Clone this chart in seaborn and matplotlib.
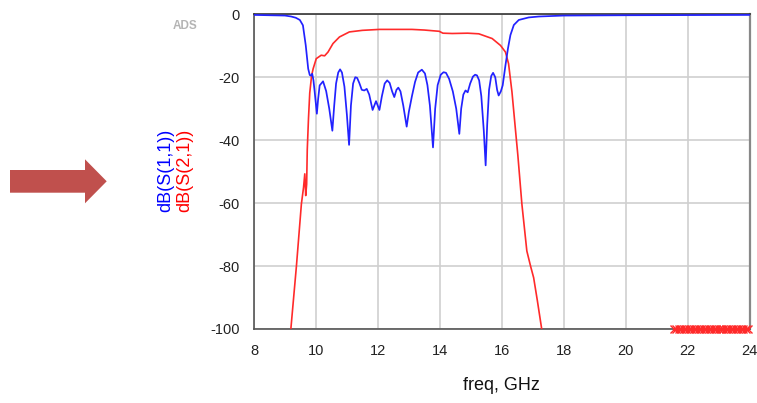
import matplotlib
matplotlib.use("Agg")
import matplotlib.pyplot as plt
import seaborn as sns
import pandas as pd
from matplotlib.patches import Polygon

# ---------------- data ----------------
freq_s11 = [8.0, 9.0, 9.2, 9.35, 9.48, 9.58, 9.67, 9.75, 9.8, 9.84, 9.88, 9.92,
            9.96, 10.03, 10.07, 10.12, 10.23, 10.33, 10.43, 10.53, 10.59, 10.65,
            10.72, 10.78, 10.84, 10.92, 11.0, 11.07, 11.13, 11.2, 11.27, 11.33,
            11.4, 11.48, 11.56, 11.64, 11.72, 11.83, 11.94, 12.05, 12.13, 12.22,
            12.3, 12.38, 12.46, 12.53, 12.6, 12.66, 12.73, 12.82, 12.93, 13.0,
            13.1, 13.2, 13.3, 13.42, 13.52, 13.6, 13.68, 13.78, 13.85, 13.93,
            14.03, 14.12, 14.2, 14.3, 14.42, 14.53, 14.63, 14.69, 14.76, 14.83,
            14.9, 14.98, 15.07, 15.14, 15.2, 15.27, 15.34, 15.42, 15.48, 15.53,
            15.59, 15.66, 15.72, 15.79, 15.85, 15.9, 15.97, 16.03, 16.12, 16.2,
            16.28, 16.39, 16.55, 16.87, 17.2, 18.0, 20.0, 24.0]
db_s11 = [-0.2, -0.4, -0.7, -1.1, -1.8, -3.5, -9.8, -17.3, -19.3, -19.5, -18.9, -21.0,
          -24.7, -31.6, -27.0, -22.6, -21.3, -24.4, -30.0, -37.0, -29.0, -22.0,
          -18.5, -17.5, -18.5, -23.0, -32.0, -41.5, -29.0, -22.0, -20.0, -20.2,
          -21.8, -24.0, -24.2, -23.7, -25.5, -30.4, -27.6, -30.4, -26.0, -22.0,
          -21.0, -21.8, -24.5, -26.3, -24.0, -23.3, -24.5, -29.0, -35.7, -31.0,
          -26.0, -21.5, -18.5, -17.6, -18.8, -22.5, -29.0, -42.3, -30.0, -22.5,
          -19.2, -18.4, -18.6, -20.5, -24.5, -30.0, -38.0, -30.0, -25.5, -24.2,
          -24.8, -22.0, -19.8, -19.2, -19.4, -21.0, -26.0, -37.0, -48.0, -35.0,
          -24.0, -19.6, -18.6, -20.0, -24.0, -25.8, -24.5, -22.6, -16.2, -10.9,
          -6.6, -3.4, -1.8, -1.0, -0.7, -0.4, -0.3, -0.2]

freq_s21 = [9.19, 9.37, 9.53, 9.6, 9.64, 9.67, 9.7, 9.72, 9.76, 9.8, 9.86, 9.91,
            10.01, 10.17, 10.28, 10.39, 10.55, 10.76, 11.08, 11.5, 12.05, 13.1,
            13.5, 13.98, 14.1, 14.4, 14.9, 15.26, 15.69, 15.96, 16.12, 16.22,
            16.33, 16.44, 16.52, 16.65, 16.81, 16.93, 17.03, 17.15, 17.29]
db_s21 = [-100.0, -80.0, -60.3, -55.0, -50.7, -57.6, -54.0, -43.0, -33.0, -25.0, -19.5, -17.3,
          -14.1, -13.0, -13.2, -12.0, -9.3, -7.2, -5.6, -5.1, -4.8, -4.8,
          -5.0, -5.4, -6.0, -6.1, -6.0, -6.2, -7.7, -9.9, -12.0, -15.7,
          -24.7, -36.4, -44.8, -60.3, -75.2, -80.0, -83.7, -91.0, -100.0]

freq_floor = [21.56, 21.64, 21.72, 21.80, 21.88, 21.96, 22.04, 22.12, 22.20, 22.28,
              22.36, 22.44, 22.52, 22.60, 22.68, 22.76, 22.84, 22.92, 23.00, 23.08,
              23.16, 23.24, 23.32, 23.40, 23.48, 23.56, 23.64, 23.72, 23.80, 23.88,
              23.96]
db_floor = [-100.0] * len(freq_floor)

x_ticks = [8, 10, 12, 14, 16, 18, 20, 22, 24]
y_ticks = [-100, -80, -60, -40, -20, 0]

df11 = pd.DataFrame({"freq": freq_s11, "dB": db_s11})
df21 = pd.DataFrame({"freq": freq_s21, "dB": db_s21})
dff = pd.DataFrame({"freq": freq_floor, "dB": db_floor})

# ---------------- style ----------------
sns.set_style("white")
plt.rcParams["font.family"] = ["Liberation Sans", "DejaVu Sans"]

W, H = 757, 403
fig = plt.figure(figsize=(W / 100, H / 100), dpi=100)
ax_l, ax_r, ax_t, ax_b = 254, 749.5, 14.3, 329
ax = fig.add_axes([ax_l / W, 1 - ax_b / H, (ax_r - ax_l) / W, (ax_b - ax_t) / H])

blue = "#2222ff"
red = "#ff2a2a"

sns.lineplot(data=df21, x="freq", y="dB", ax=ax, color=red, lw=1.2,
             estimator=None, sort=False, zorder=3)
sns.lineplot(data=df11, x="freq", y="dB", ax=ax, color=blue, lw=1.25,
             estimator=None, sort=False, zorder=4)
sns.lineplot(data=dff, x="freq", y="dB", ax=ax, color=red, lw=1.2,
             marker="x", markersize=6, markeredgewidth=1.0, mec=red,
             estimator=None, sort=False, zorder=5, clip_on=False)

ax.set_xlim(8, 24)
ax.set_ylim(-100, 0)
ax.set_xticks(x_ticks)
ax.set_yticks(y_ticks)
ax.set_xticks([9, 11, 13, 15, 17, 19, 21, 23], minor=True)
ax.set_yticks([-90, -70, -50, -30, -10], minor=True)
ax.set_xticklabels([str(v) for v in x_ticks])
ax.set_yticklabels([str(v) for v in y_ticks])

ax.grid(True, which="major", color="#cfcfcf", lw=1.2)
ax.set_axisbelow(True)

ax.tick_params(axis="x", which="major", direction="out", length=8, width=1.0,
               color="#444444", labelsize=10.5, labelcolor="#222222", pad=3)
ax.tick_params(axis="x", which="minor", direction="out", length=4, width=1.0,
               color="#444444")
ax.tick_params(axis="y", which="major", direction="out", length=9.5, width=1.0,
               color="#444444", labelsize=10.5, labelcolor="#222222", pad=1)
ax.tick_params(axis="y", which="minor", direction="out", length=5, width=1.0,
               color="#444444")

for side in ["left", "bottom"]:
    ax.spines[side].set_color("#555555")
    ax.spines[side].set_linewidth(1.2)
ax.spines["top"].set_color("#333333")
ax.spines["top"].set_linewidth(1.2)
ax.spines["right"].set_color("#888888")
ax.spines["right"].set_linewidth(1.6)

ax.set_xlabel("")
ax.set_ylabel("")

# axis label
fig.text(501 / W, 1 - 386 / H, "freq, GHz", ha="center", va="center",
         fontsize=13, color="#111111")

# y labels (two coloured rotated texts)
fig.text(165.5 / W, 1 - 170.5 / H, "dB(S(1,1))", rotation=90, ha="center",
         va="center", fontsize=13, color="#0000ff")
fig.text(185 / W, 1 - 170.5 / H, "dB(S(2,1))", rotation=90, ha="center",
         va="center", fontsize=13, color="#ff0000")

# ADS watermark
fig.text(185.5 / W, 1 - 25.7 / H, "ADS", ha="center", va="center",
         fontsize=8.5, fontweight="bold", color="#b4b4b4")

# arrow
pts = [(10, 170), (85, 170), (85, 159.3), (106.7, 181.3), (85, 203.3),
       (85, 192.7), (10, 192.7)]
poly = Polygon([(x / W, 1 - y / H) for x, y in pts], closed=True,
               transform=fig.transFigure, facecolor="#C0504D",
               edgecolor="none")
fig.patches.append(poly)

fig.savefig("out.png", dpi=100)
